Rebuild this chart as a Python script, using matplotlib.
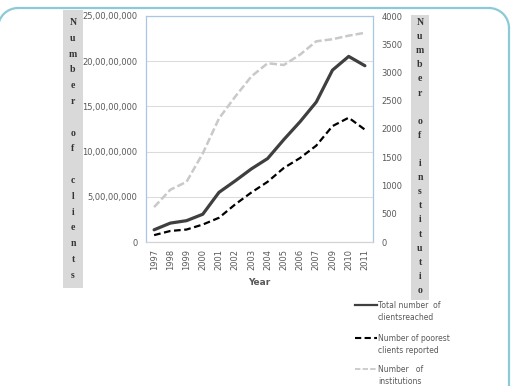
import matplotlib.pyplot as plt
from matplotlib.lines import Line2D
from matplotlib.patches import Arc, Rectangle
from matplotlib.transforms import IdentityTransform
from matplotlib.ticker import FuncFormatter, MultipleLocator

# Data
years = ['1997', '1998', '1999', '2000', '2001', '2002', '2003', '2004',
         '2005', '2006', '2007', '2009', '2010', '2011']
total_clients = [13.5e6, 20.9e6, 23.6e6, 30.7e6, 54.9e6, 67.6e6, 80.9e6, 92.3e6,
                 113.3e6, 133.0e6, 154.8e6, 190.1e6, 205.3e6, 195.0e6]
poorest_clients = [7.6e6, 12.2e6, 13.8e6, 19.3e6, 26.8e6, 41.6e6, 54.8e6, 66.6e6,
                   81.9e6, 92.9e6, 106.6e6, 128.2e6, 137.5e6, 124.3e6]
institutions = [618, 925, 1065, 1567, 2186, 2572, 2931, 3164,
                3133, 3316, 3552, 3589, 3652, 3703]

W, H = 513, 386
TXT = '#595959'
FRAME = '#8ccbd6'


def indian_fmt(v, pos=None):
    v = int(round(v))
    if v == 0:
        return '0'
    s = str(v)
    last3, rest = s[-3:], s[:-3]
    parts = []
    while len(rest) > 2:
        parts.insert(0, rest[-2:])
        rest = rest[:-2]
    if rest:
        parts.insert(0, rest)
    return ','.join(parts + [last3])


fig = plt.figure(figsize=(W / 100, H / 100), dpi=100)

# rounded frame (pixel units): top-left corner, top edge, top-right corner, right edge
px = IdentityTransform()
r = 20
fig.add_artist(Arc((-2 + r, H - 8 - r), 2 * r, 2 * r, theta1=90, theta2=180,
                   transform=px, color=FRAME, lw=1.6))
fig.add_artist(Arc((509 - r, H - 8 - r), 2 * r, 2 * r, theta1=0, theta2=90,
                   transform=px, color=FRAME, lw=1.6))
fig.add_artist(Line2D([-2 + r, 509 - r], [H - 8, H - 8], transform=px,
                      color=FRAME, lw=1.6))
fig.add_artist(Line2D([509, 509], [H - 8 - r, -5], transform=px,
                      color=FRAME, lw=1.6))

ax = fig.add_axes([146 / W, 1 - 242 / H, (373 - 146) / W, (242 - 16) / H])
ax2 = ax.twinx()

x = range(len(years))
ax.plot(x, total_clients, color='#3f3f3f', lw=2.3, solid_capstyle='round')
ax.plot(x, poorest_clients, color='black', lw=1.6, ls=(0, (3, 1.6)))
ax2.plot(x, institutions, color='#c9c9c9', lw=1.8, ls=(0, (3, 1.2)))

ax.set_xlim(-0.5, len(years) - 0.5)
ax.set_ylim(0, 25e7)
ax2.set_ylim(0, 4000)
ax.yaxis.set_major_locator(MultipleLocator(5e7))
ax.yaxis.set_major_formatter(FuncFormatter(indian_fmt))
ax2.yaxis.set_major_locator(MultipleLocator(500))

ax.set_xticks(list(x))
ax.set_xticklabels(years, rotation=90)
ax.grid(True, axis='y', color='#dcdcdc', lw=0.8)
ax.set_axisbelow(True)

for a in (ax, ax2):
    a.tick_params(length=0, labelsize=6, labelcolor=TXT)
    for side in ('left', 'right', 'top'):
        a.spines[side].set_color('#a9c6e6')
    a.spines['bottom'].set_color('#d4d4d4')
ax.tick_params(axis='y', pad=6)
ax.tick_params(axis='x', pad=5)
ax2.tick_params(axis='y', pad=6)

ax.set_xlabel('Year', fontsize=6.5, fontweight='bold', color=TXT, labelpad=6)


# vertical stacked axis titles in grey boxes
def stacked(label, x0, x1, y0, y1, ytop, step):
    fig.add_artist(Rectangle((x0 / W, 1 - y1 / H), (x1 - x0) / W, (y1 - y0) / H,
                             transform=fig.transFigure, facecolor='#d9d9d9',
                             edgecolor='none'))
    for i, ch in enumerate(label):
        if ch == ' ':
            continue
        fig.text((x0 + x1) / 2 / W, 1 - (ytop + i * step) / H, ch,
                 ha='center', va='center', fontsize=7, fontweight='bold',
                 family='Liberation Serif', color='#333333')


stacked('Number of clients', 63, 83, 10, 288, 22.5, 15.8)
stacked('Number of institutio', 411, 429, 15, 300, 22.5, 14.1)

# legend drawn beside the plot
entries = [
    (305, dict(color='#3f3f3f', lw=1.6), 'Total number  of\nclientsreached'),
    (338, dict(color='black', lw=1.5, ls=(0, (3, 1.6))), 'Number of poorest\nclients reported'),
    (369, dict(color='#c9c9c9', lw=1.3, ls=(0, (3, 1.2))), 'Number   of\ninstitutions'),
]
for yy, style, text in entries:
    fig.add_artist(Line2D([355 / W, 377 / W], [1 - yy / H, 1 - yy / H],
                          transform=fig.transFigure, **style))
    fig.text(378 / W, 1 - (yy - 4) / H, text, ha='left', va='top',
             fontsize=5.5, color=TXT, linespacing=1.4)

fig.savefig('out.png', dpi=100)
